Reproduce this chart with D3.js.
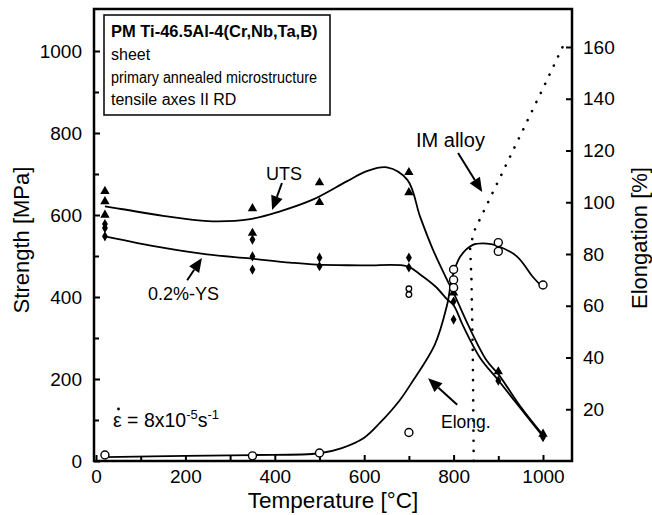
<!DOCTYPE html>
<html>
<head>
<meta charset="utf-8">
<script src="https://cdn.jsdelivr.net/npm/d3@7"></script>
<style>
  body { margin: 0; background: #fff; }
  text { font-family: "Liberation Sans", Arial, sans-serif; fill: #000; }
</style>
</head>
<body>
<script>
// tensile data of PM Ti-46.5Al-4(Cr,Nb,Ta,B) sheet vs temperature

// measured points [temperature, value]
const utsPoints = [[20, 658], [20, 633], [20, 600], [350, 616], [350, 556], [500, 679], [500, 631],
    [700, 704], [700, 655], [800, 425], [800, 410], [900, 218], [1000, 66]];
const ysPoints = [[20, 578], [20, 568], [20, 548], [350, 540], [350, 499], [350, 467], [500, 496], [500, 475],
    [700, 496], [700, 472], [800, 389], [800, 345], [900, 196], [1000, 62], [1000, 58]];
const oddPoints = [[700, 420], [700, 406]];
const elongPoints = [[20, 2.3], [350, 2], [500, 3.1], [700, 11], [800, 74], [800, 70], [800, 67],
    [900, 84.4], [900, 81], [1000, 68]];

// fitted curves
const utsCurve = [[20, 621], [60, 614], [150, 598], [250, 585], [345, 590], [412, 609], [486, 638], [561, 682],
    [606, 707], [651, 716], [697, 685], [725, 596], [754, 515], [784, 445], [800, 410], [832, 333],
    [874, 245], [900, 212], [950, 132], [1000, 63]];
const ysCurve = [[20, 548], [136, 523], [248, 504], [345, 494], [434, 484], [494, 479], [600, 477], [696, 475],
    [725, 455], [760, 425], [785, 395], [800, 380], [821, 330], [859, 252], [900, 197], [950, 128], [1000, 60]];
const elongCurve = [[20, 1.5], [200, 2], [350, 2.3], [500, 3], [550, 5], [600, 9], [635, 14.7], [680, 23.6],
    [709, 31], [758, 45], [785, 60], [797, 71], [815, 79], [843, 83.5], [875, 84], [900, 83], [942, 79],
    [978, 71], [1000, 67]];
const imCurve = [[845, 0], [843, 40], [840, 70], [837, 82], [845, 88.5], [1000, 144], [1052, 163]];

const tempTicks = [0, 200, 400, 600, 800, 1000];
const tempMinor = [100, 300, 500, 700, 900];
const strengthTicks = [0, 200, 400, 600, 800, 1000];
const strengthMinor = [100, 300, 500, 700, 900];
const elongTicks = [20, 40, 60, 80, 100, 120, 140, 160];

const legendLines = ['PM Ti-46.5Al-4(Cr,Nb,Ta,B)', 'sheet', 'primary annealed microstructure', 'tensile axes II RD'];

const width = 652, height = 515;
const frame = { left: 94, right: 572, top: 9, bottom: 461 };

const svg = d3.select('body').append('svg')
    .attr('width', width)
    .attr('height', height);

let xScale = d3.scaleLinear().domain([0, 1000]).range([96, 543]);
let yS = d3.scaleLinear().domain([0, 1000]).range([461, 51]);
let yE = d3.scaleLinear().domain([0, 160]).range([461, 47]);

// axes (ticks pointing inward)
function styleAxis(g, size) {
    g.select('.domain').remove();
    g.selectAll('.tick line').attr('stroke', '#000').attr('stroke-width', 2);
    g.selectAll('.tick text').style('font-size', size + 'px').style('font-family', '"Liberation Sans", Arial, sans-serif');
}

svg.append('g')
    .attr('transform', 'translate(' + frame.left + ',0)')
    .call(d3.axisLeft(yS).tickValues(strengthTicks).tickFormat(d3.format('d')).tickSizeInner(-6).tickSizeOuter(0).tickPadding(12))
    .call(g => styleAxis(g, 19));
svg.append('g')
    .attr('transform', 'translate(' + frame.left + ',0)')
    .call(d3.axisLeft(yS).tickValues(strengthMinor).tickFormat('').tickSizeInner(-5).tickSizeOuter(0))
    .call(g => styleAxis(g, 19));

svg.append('g')
    .attr('transform', 'translate(' + frame.right + ',0)')
    .call(d3.axisRight(yE).tickValues(elongTicks).tickFormat(d3.format('d')).tickSizeInner(-6).tickSizeOuter(0).tickPadding(11))
    .call(g => styleAxis(g, 19));

svg.append('g')
    .attr('transform', 'translate(0,' + frame.bottom + ')')
    .call(d3.axisBottom(xScale).tickValues(tempTicks).tickFormat(d3.format('d')).tickSizeInner(-6).tickSizeOuter(0).tickPadding(9))
    .call(g => styleAxis(g, 19));
svg.append('g')
    .attr('transform', 'translate(0,' + frame.bottom + ')')
    .call(d3.axisBottom(xScale).tickValues(tempMinor).tickFormat('').tickSizeInner(-5).tickSizeOuter(0))
    .call(g => styleAxis(g, 19));

// frame
svg.append('rect')
    .attr('x', frame.left).attr('y', frame.top)
    .attr('width', frame.right - frame.left).attr('height', frame.bottom - frame.top)
    .attr('fill', 'none').attr('stroke', '#000').attr('stroke-width', 2.5);

// axis titles
svg.append('text')
    .text('Temperature [°C]')
    .attr('x', 333).attr('y', 508)
    .attr('text-anchor', 'middle')
    .style('font-size', '22.5px');
svg.append('text')
    .text('Strength [MPa]')
    .attr('transform', 'translate(29,240) rotate(-90)')
    .attr('text-anchor', 'middle')
    .style('font-size', '22px');
svg.append('text')
    .text('Elongation [%]')
    .attr('transform', 'translate(647,238) rotate(-90)')
    .attr('text-anchor', 'middle')
    .style('font-size', '22px');

// curves
let lineS = d3.line().x(d => xScale(d[0])).y(d => yS(d[1])).curve(d3.curveCatmullRom.alpha(0.5));
let lineE = d3.line().x(d => xScale(d[0])).y(d => yE(d[1])).curve(d3.curveCatmullRom.alpha(0.5));

svg.append('path').datum(utsCurve).attr('d', lineS)
    .attr('fill', 'none').attr('stroke', '#000').attr('stroke-width', 1.8);
svg.append('path').datum(ysCurve).attr('d', lineS)
    .attr('fill', 'none').attr('stroke', '#000').attr('stroke-width', 1.8);
svg.append('path').datum(elongCurve).attr('d', lineE)
    .attr('fill', 'none').attr('stroke', '#000').attr('stroke-width', 1.8);
svg.append('path').datum(imCurve)
    .attr('d', d3.line().x(d => xScale(d[0])).y(d => yE(d[1])).curve(d3.curveLinear))
    .attr('fill', 'none').attr('stroke', '#000').attr('stroke-width', 2.6)
    .attr('stroke-linecap', 'round').attr('stroke-dasharray', '0.1,10');

// markers
svg.append('g').selectAll('path')
    .data(utsPoints).enter().append('path')
    .attr('d', d3.symbol(d3.symbolTriangle, 38))
    .attr('transform', d => 'translate(' + xScale(d[0]) + ',' + yS(d[1]) + ')')
    .attr('fill', '#000');
svg.append('g').selectAll('path')
    .data(ysPoints).enter().append('path')
    .attr('d', d3.symbol(d3.symbolDiamond, 30))
    .attr('transform', d => 'translate(' + xScale(d[0]) + ',' + yS(d[1]) + ')')
    .attr('fill', '#000');
svg.append('g').selectAll('circle')
    .data(oddPoints).enter().append('circle')
    .attr('cx', d => xScale(d[0])).attr('cy', d => yS(d[1])).attr('r', 2.8)
    .attr('fill', '#fff').attr('stroke', '#000').attr('stroke-width', 1.3);
svg.append('g').selectAll('circle')
    .data(elongPoints).enter().append('circle')
    .attr('cx', d => xScale(d[0])).attr('cy', d => yE(d[1])).attr('r', 4)
    .attr('fill', '#fff').attr('stroke', '#000').attr('stroke-width', 1.4);

// annotation arrows
function arrow(x1, y1, x2, y2) {
    let dx = x2 - x1, dy = y2 - y1;
    let len = Math.sqrt(dx * dx + dy * dy);
    let ux = dx / len, uy = dy / len;
    let hl = 14, hw = 6;
    let bx = x2 - ux * hl, by = y2 - uy * hl;
    svg.append('line')
        .attr('x1', x1).attr('y1', y1).attr('x2', bx).attr('y2', by)
        .attr('stroke', '#000').attr('stroke-width', 2);
    svg.append('path')
        .attr('d', 'M' + x2 + ',' + y2 + 'L' + (bx - uy * hw) + ',' + (by + ux * hw) +
            'L' + (bx + uy * hw) + ',' + (by - ux * hw) + 'Z')
        .attr('fill', '#000');
}
arrow(xScale(416), yS(678), xScale(394), yS(612));
arrow(xScale(204), yS(441), xScale(237), yS(495));
arrow(xScale(810), yE(119), xScale(864), yE(104));
arrow(xScale(808), yE(21.7), xScale(743), yE(32));

function note(str, x, y, size) {
    return svg.append('text').text(str).attr('x', x).attr('y', y).style('font-size', size + 'px');
}
note('UTS', 266, 180, 18);
note('0.2%-YS', 148, 300, 18);
note('IM alloy', 416, 147, 20);
note('Elong.', 441, 428, 17.5);

// strain rate
let sr = svg.append('text').attr('x', 113).attr('y', 427).style('font-size', '19.5px');
sr.append('tspan').text('ε = 8x10');
sr.append('tspan').text('-5').attr('dy', -8).style('font-size', '13px');
sr.append('tspan').text('s').attr('dy', 8);
sr.append('tspan').text('-1').attr('dy', -8).style('font-size', '13px');
svg.append('circle').attr('cx', 118.5).attr('cy', 409).attr('r', 1.4).attr('fill', '#000');

// legend box
svg.append('rect')
    .attr('x', 104).attr('y', 15).attr('width', 226).attr('height', 100)
    .attr('fill', '#fff').attr('stroke', '#000').attr('stroke-width', 1.5);
let lg = svg.append('g');
const legendWidths = [null, null, 206, null];
legendLines.forEach((l, i) => {
    let t = lg.append('text')
        .text(l)
        .attr('x', 111)
        .attr('y', [37, 60, 83, 105][i])
        .style('font-size', i === 0 ? '16.5px' : '16px')
        .style('font-weight', i === 0 ? 'bold' : 'normal');
    if (legendWidths[i]) {
        t.attr('textLength', legendWidths[i]).attr('lengthAdjust', 'spacingAndGlyphs');
    }
});
</script>
</body>
</html>
